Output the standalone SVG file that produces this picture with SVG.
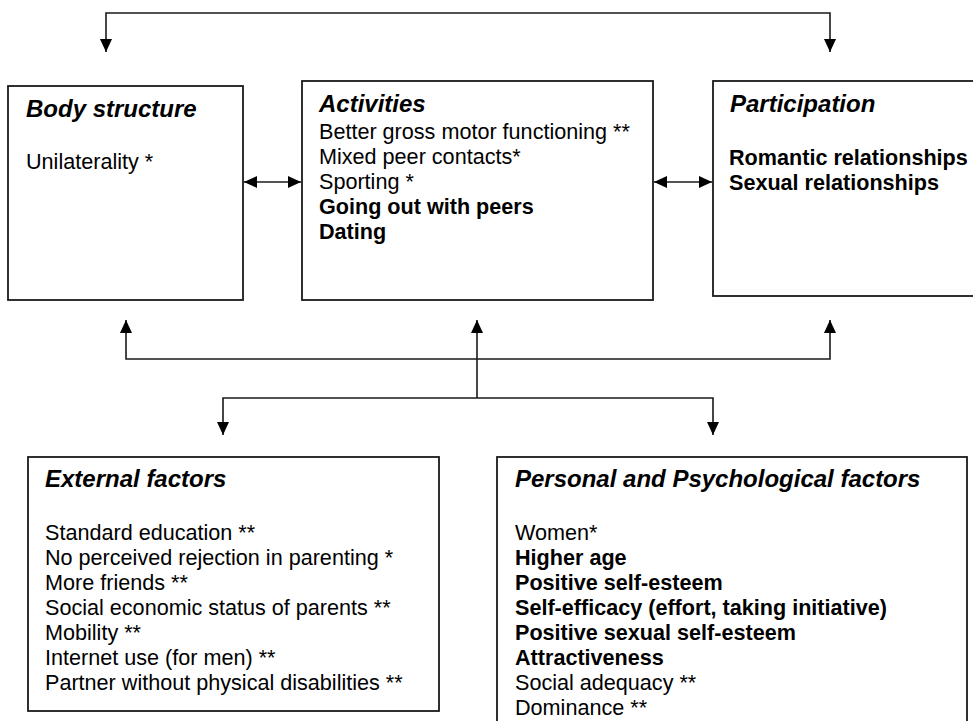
<svg xmlns="http://www.w3.org/2000/svg" width="973" height="721" viewBox="0 0 973 721">
<style>
.box{fill:#fff;stroke:#1a1a1a;stroke-width:1.8}
.con{fill:none;stroke:#1a1a1a;stroke-width:1.6}
text{font-family:"Liberation Sans",Arial,sans-serif;fill:#000}
.t{font-size:24px;font-weight:bold;font-style:italic}
.n{font-size:21.6px}
.b{font-size:21.6px;font-weight:bold}
</style>
<defs>
<marker id="ah" markerUnits="userSpaceOnUse" markerWidth="14" markerHeight="12" refX="13" refY="6" orient="auto-start-reverse" viewBox="0 0 14 12">
<path d="M0,0 L13,6 L0,12 z" fill="#000"/>
</marker>
</defs>
<rect width="973" height="721" fill="#fff"/>
<g id="connectors">
<path class="con" d="M106,52 V13 H830 V52" marker-start="url(#ah)" marker-end="url(#ah)"/>
<path class="con" d="M244,182 H301" marker-start="url(#ah)" marker-end="url(#ah)"/>
<path class="con" d="M654,182 H712" marker-start="url(#ah)" marker-end="url(#ah)"/>
<path class="con" d="M126,320 V359 H830 V320" marker-start="url(#ah)" marker-end="url(#ah)"/>
<path class="con" d="M477,398 V320" marker-end="url(#ah)"/>
<path class="con" d="M223,435 V398 H713 V435" marker-start="url(#ah)" marker-end="url(#ah)"/>
</g>
<g id="body-structure">
<rect class="box" x="8" y="86" width="235" height="214"/>
<text class="t" x="26" y="117">Body structure</text>
<text class="n" x="26" y="169">Unilaterality *</text>
</g>
<g id="activities">
<rect class="box" x="302" y="81" width="351" height="219"/>
<text class="t" x="319" y="112">Activities</text>
<text class="n" x="319" y="139">Better gross motor functioning **</text>
<text class="n" x="319" y="164">Mixed peer contacts*</text>
<text class="n" x="319" y="189">Sporting *</text>
<text class="b" x="319" y="214">Going out with peers</text>
<text class="b" x="319" y="239">Dating</text>
</g>
<g id="participation">
<rect class="box" x="713" y="81" width="280" height="215"/>
<text class="t" x="730" y="112">Participation</text>
<text class="b" x="729" y="165">Romantic relationships</text>
<text class="b" x="729" y="190">Sexual relationships</text>
</g>
<g id="external-factors">
<rect class="box" x="28" y="457" width="411" height="254"/>
<text class="t" x="45" y="487">External factors</text>
<text class="n" x="45" y="540">Standard education **</text>
<text class="n" x="45" y="565">No perceived rejection in parenting *</text>
<text class="n" x="45" y="590">More friends **</text>
<text class="n" x="45" y="615">Social economic status of parents **</text>
<text class="n" x="45" y="640">Mobility **</text>
<text class="n" x="45" y="665">Internet use (for men) **</text>
<text class="n" x="45" y="690">Partner without physical disabilities **</text>
</g>
<g id="personal-psychological-factors">
<rect class="box" x="497" y="457" width="470" height="280"/>
<text class="t" x="515" y="487">Personal and Psychological factors</text>
<text class="n" x="515" y="540">Women*</text>
<text class="b" x="515" y="565">Higher age</text>
<text class="b" x="515" y="590">Positive self-esteem</text>
<text class="b" x="515" y="615">Self-efficacy (effort, taking initiative)</text>
<text class="b" x="515" y="640">Positive sexual self-esteem</text>
<text class="b" x="515" y="665">Attractiveness</text>
<text class="n" x="515" y="690">Social adequacy **</text>
<text class="n" x="515" y="715">Dominance **</text>
</g>
</svg>
